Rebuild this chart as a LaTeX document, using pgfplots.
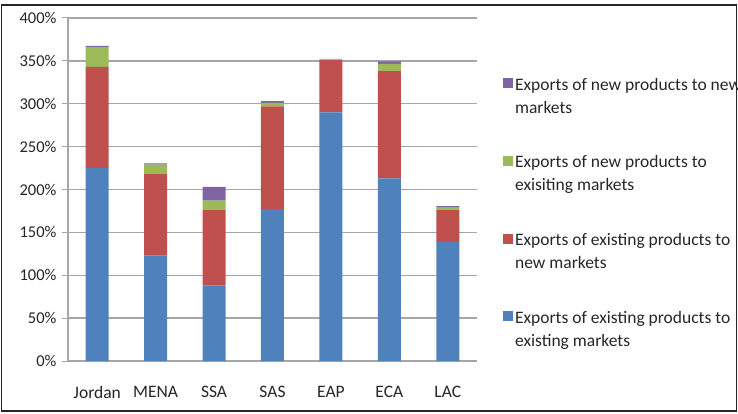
\documentclass[border=0pt]{standalone}
\usepackage{fontspec}
\setmainfont{Carlito}
\usepackage{pgfplots}
\pgfplotsset{compat=1.18}

\definecolor{exBlue}{HTML}{4F81BD}
\definecolor{exRed}{HTML}{C0504D}
\definecolor{exGreen}{HTML}{9BBB59}
\definecolor{exPurple}{HTML}{8064A2}
\definecolor{gridGrey}{HTML}{A6A6A6}

\begin{document}
\begin{tikzpicture}
\useasboundingbox (0pt,0pt) rectangle (738pt,413pt);
\draw[line width=1.6pt, black!85] (1.5pt,2pt) rectangle (736.5pt,408pt);

\begin{axis}[
    at={(68pt,52pt)}, anchor=south west,
    scale only axis,
    width=409pt, height=343pt,
    ybar stacked, bar width=23pt,
    xmin=-0.5, xmax=6.5,
    ymin=0, ymax=400,
    xtick={0,...,6},
    xticklabels={Jordan,MENA,SSA,SAS,EAP,ECA,LAC},
    major x tick style={draw=none},
    extra x ticks={-0.5,0.5,1.5,2.5,3.5,4.5,5.5,6.5},
    extra x tick labels={},
    extra x tick style={major tick length=6pt, tick style={gridGrey, line width=1pt}},
    ytick={0,50,...,400},
    yticklabels={0\%,50\%,100\%,150\%,200\%,250\%,300\%,350\%,400\%},
    axis x line*=bottom, axis y line*=left,
    axis line style={gridGrey, line width=1.2pt},
    tick align=outside,
    major tick length=6pt,
    ytick style={gridGrey, line width=1pt},
    ymajorgrids, grid style={gridGrey, line width=1.3pt},
    tick label style={font=\fontsize{16.5}{19}\selectfont, black!85},
    yticklabel style={xshift=-2pt},
    xticklabel style={yshift=-16pt, font=\fontsize{17.5}{20}\selectfont},
    legend style={
        at={(1.056,0.837)}, anchor=north west,
        draw=none, fill=none,
        font=\fontsize{17.5}{23}\selectfont,
        row sep=37pt,
        nodes={align=left, text=black!85},
    },
    legend cell align=left,
    reverse legend,
    legend image code/.code={\fill[#1] (0pt,8pt) rectangle (10pt,18pt);},
]
\addplot[fill=exBlue, draw=none] coordinates {(0,225) (1,123) (2,88) (3,177) (4,290) (5,213) (6,139)};
\addplot[fill=exRed, draw=none] coordinates {(0,118) (1,95) (2,88) (3,120) (4,61) (5,125) (6,37)};
\addplot[fill=exGreen, draw=none] coordinates {(0,23) (1,11) (2,11) (3,4) (4,0.7) (5,8.5) (6,3)};
\addplot[fill=exPurple, draw=none] coordinates {(0,1.5) (1,1.5) (2,16) (3,2) (4,0.7) (5,3) (6,1.5)};
\legend{Exports of existing products to\\existing markets,
        Exports of existing products to\\new markets,
        Exports of new products to\\exisiting markets,
        Exports of new products to new\\markets}
\end{axis}
\end{tikzpicture}
\end{document}
